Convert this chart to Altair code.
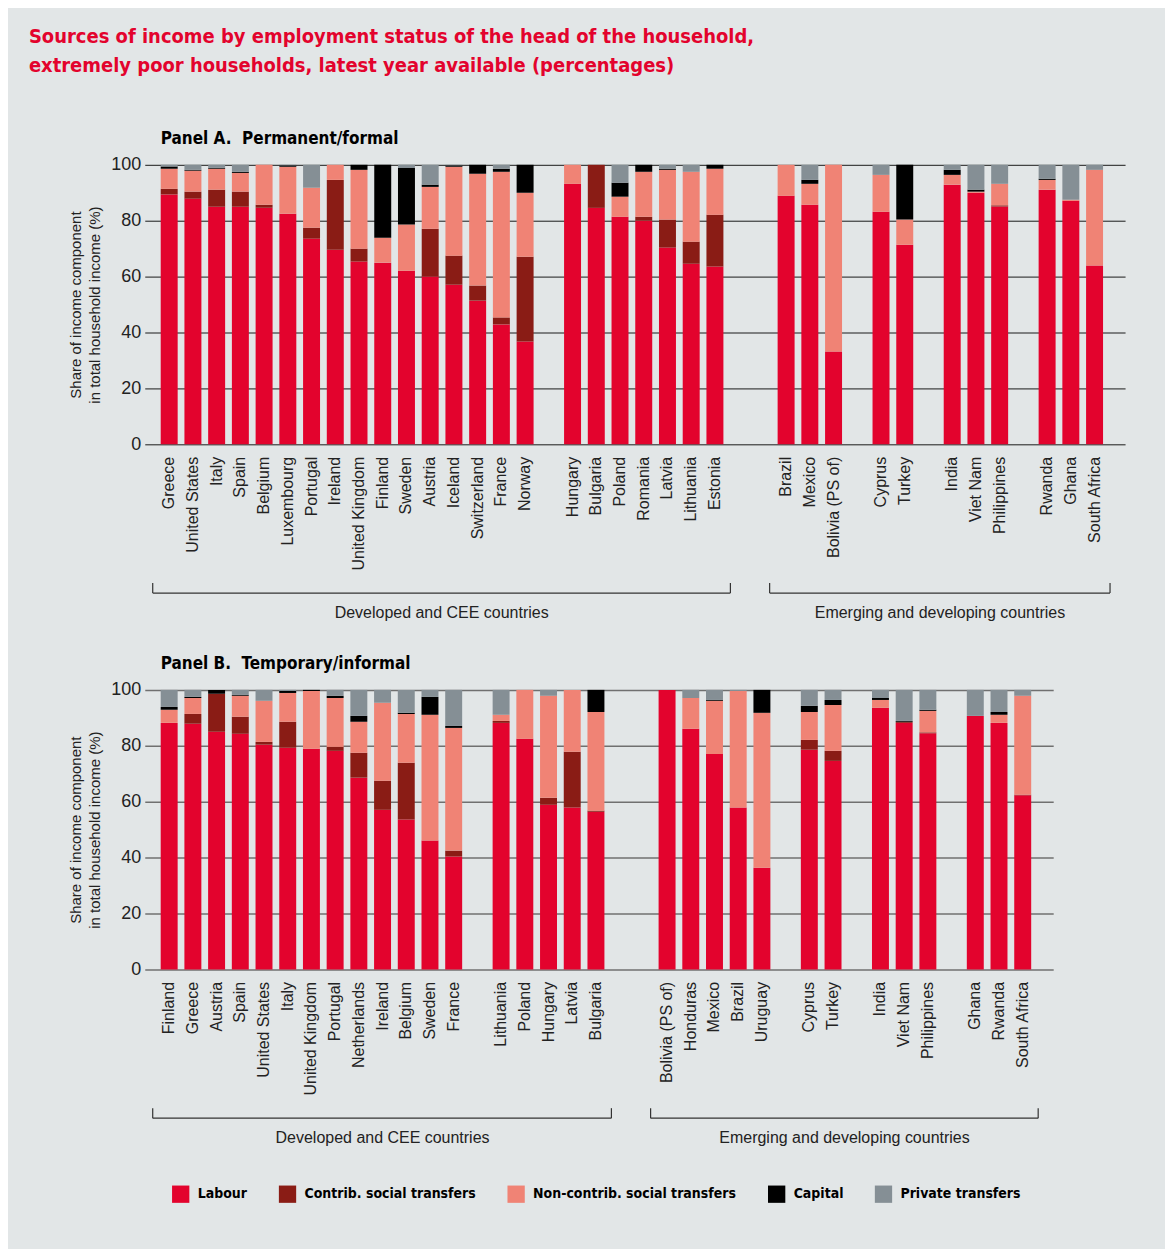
import altair as alt
import pandas as pd

SOURCES = ["Labour", "Contrib. social transfers", "Non-contrib. social transfers", "Capital", "Private transfers"]
COLORS = ["#E3032D", "#8A1C15", "#F08375", "#000000", "#858F95"]

# ---------------- Panel A: Permanent/formal ----------------
A_dev = ["Greece", "United States", "Italy", "Spain", "Belgium", "Luxembourg", "Portugal", "Ireland",
         "United Kingdom", "Finland", "Sweden", "Austria", "Iceland", "Switzerland", "France", "Norway"]
A_cee = ["Hungary", "Bulgaria", "Poland", "Romania", "Latvia", "Lithuania", "Estonia"]
A_em1 = ["Brazil", "Mexico", "Bolivia (PS of)"]
A_em2 = ["Cyprus", "Turkey"]
A_em3 = ["India", "Viet Nam", "Philippines"]
A_em4 = ["Rwanda", "Ghana", "South Africa"]
A_countries = A_dev + A_cee + A_em1 + A_em2 + A_em3 + A_em4

A_labour = [89.4, 87.9, 85.0, 85.0, 84.6, 82.5, 73.6, 69.6, 65.4, 65.0, 62.1, 60.0, 57.1, 51.4, 42.9, 36.8,
            93.2, 84.6, 81.4, 80.0, 70.4, 64.6, 63.6,
            88.9, 85.7, 33.2, 83.2, 71.4, 92.9, 90.0, 85.1, 91.1, 87.1, 64.0]
A_contrib = [2.0, 2.5, 6.1, 5.4, 1.1, 0.0, 3.9, 25.0, 4.6, 0.0, 0.0, 17.1, 10.4, 5.4, 2.5, 30.3,
             0.0, 15.4, 0.0, 1.4, 10.0, 7.9, 18.5,
             0.0, 0.0, 0.0, 0.0, 0.0, 0.0, 0.0, 0.4, 0.0, 0.0, 0.0]
A_noncontrib = [7.2, 7.5, 7.5, 6.7, 14.3, 16.8, 14.3, 5.4, 28.2, 8.9, 16.5, 15.0, 31.8, 40.0, 52.1, 22.9,
                6.8, 0.0, 7.2, 16.1, 17.8, 25.0, 16.5,
                11.1, 7.5, 66.8, 13.2, 9.0, 3.5, 0.4, 7.7, 3.5, 0.4, 34.2]
A_capital = [0.8, 0.3, 0.3, 0.4, 0.0, 0.5, 0.0, 0.0, 1.8, 26.1, 20.3, 0.8, 0.5, 3.2, 1.1, 10.0,
             0.0, 0.0, 5.0, 2.5, 0.4, 0.0, 1.4,
             0.0, 1.4, 0.0, 0.0, 19.6, 1.8, 0.7, 0.0, 0.4, 0.0, 0.0]
A_private = [0.6, 1.8, 1.1, 2.5, 0.0, 0.2, 8.2, 0.0, 0.0, 0.0, 1.1, 7.1, 0.2, 0.0, 1.4, 0.0,
             0.0, 0.0, 6.4, 0.0, 1.4, 2.5, 0.0,
             0.0, 5.4, 0.0, 3.6, 0.0, 1.8, 8.9, 6.8, 5.0, 12.5, 1.8]

# ---------------- Panel B: Temporary/informal ----------------
B_dev = ["Finland", "Greece", "Austria", "Spain", "United States", "Italy", "United Kingdom", "Portugal",
         "Netherlands", "Ireland", "Belgium", "Sweden", "France"]
B_cee = ["Lithuania", "Poland", "Hungary", "Latvia", "Bulgaria"]
B_em1 = ["Bolivia (PS of)", "Honduras", "Mexico", "Brazil", "Uruguay"]
B_em2 = ["Cyprus", "Turkey"]
B_em3 = ["India", "Viet Nam", "Philippines"]
B_em4 = ["Ghana", "Rwanda", "South Africa"]
B_countries = B_dev + B_cee + B_em1 + B_em2 + B_em3 + B_em4

B_labour = [88.2, 87.9, 85.0, 84.3, 80.4, 79.3, 78.9, 78.2, 68.6, 57.1, 53.6, 46.1, 40.4,
            88.2, 82.5, 58.9, 57.9, 56.4,
            100.0, 86.1, 77.1, 57.9, 36.4, 78.6, 74.6, 93.6, 88.2, 84.5, 90.7, 88.2, 62.3]
B_contrib = [0.0, 3.5, 13.6, 6.1, 1.0, 9.3, 0.0, 1.4, 8.9, 10.4, 20.3, 0.0, 2.1,
             0.7, 0.0, 2.5, 20.0, 0.4,
             0.0, 0.0, 0.0, 0.0, 0.0, 3.5, 3.6, 0.0, 0.4, 0.3, 0.0, 0.0, 0.2]
B_noncontrib = [4.7, 5.7, 0.0, 7.5, 14.7, 10.3, 20.7, 17.5, 11.1, 27.9, 17.5, 45.0, 43.9,
                2.2, 17.5, 36.5, 22.1, 35.3,
                0.0, 11.0, 19.0, 41.7, 55.4, 10.0, 16.4, 2.8, 0.0, 7.7, 0.0, 2.9, 35.4]
B_capital = [1.0, 0.4, 1.4, 0.3, 0.0, 0.7, 0.4, 0.8, 2.1, 0.0, 0.4, 6.4, 0.7,
             0.0, 0.0, 0.0, 0.0, 7.9,
             0.0, 0.0, 0.3, 0.0, 8.2, 2.2, 1.8, 0.7, 0.3, 0.4, 0.0, 1.0, 0.0]
B_private = [6.1, 2.5, 0.0, 1.8, 3.9, 0.4, 0.0, 2.1, 9.3, 4.6, 8.2, 2.5, 12.9,
             8.9, 0.0, 2.1, 0.0, 0.0,
             0.0, 2.9, 3.6, 0.4, 0.0, 5.7, 3.6, 2.9, 11.1, 7.1, 9.3, 7.9, 2.1]

GROUP_LABELS = ["Developed and CEE countries", "Emerging and developing countries"]

TITLE_LINES = ["Sources of income by employment status of the head of the household,",
               "extremely poor households, latest year available (percentages)"]
Y_TITLE = ["Share of income component", "in total household income (%)"]

NARROW = "Liberation Sans Narrow, DejaVu Sans Condensed, Arial Narrow, sans-serif"
SANS = "Liberation Sans, Arial, sans-serif"
BG = "#E2E6E7"
H = 280


def long_df(countries, series):
    rows = []
    for i, c in enumerate(countries):
        for k, s in enumerate(SOURCES):
            rows.append({"country": c, "source": s, "order": k, "value": series[k][i]})
    return pd.DataFrame(rows)


X_AXIS = alt.Axis(title=None, labelAngle=270, labelFont=SANS, labelFontSize=16, labelColor="#222",
                  labelPadding=12, ticks=False, domain=False, grid=False, labelOverlap=False,
                  labelExpr="indexof(datum.label, '_') == 0 ? '' : datum.label")


def panel(df, domain, groups, title, width, grid_color, grid_width):
    xscale = alt.Scale(domain=domain, paddingInner=0.285, paddingOuter=0.8, align=0.42)
    legend = alt.Legend(title=None, orient="none", legendX=27, legendY=1022, direction="horizontal",
                        columns=5, symbolType="square", symbolSize=300, symbolStrokeWidth=0,
                        symbolOpacity=1, labelFont=NARROW, labelFontSize=14, labelFontWeight="bold",
                        labelColor="#000", columnPadding=31, labelOffset=8, labelLimit=300)
    bars = alt.Chart(df).mark_bar().encode(
        x=alt.X("country:N", scale=xscale, title=None, axis=X_AXIS),
        y=alt.Y("value:Q", stack="zero", scale=alt.Scale(domain=[0, 100], nice=False),
                axis=alt.Axis(values=[0, 20, 40, 60, 80, 100], title=Y_TITLE, titleFont=SANS,
                              titleFontSize=15, titleFontWeight="normal", titleColor="#222",
                              titlePadding=8, titleLineHeight=19,
                              labelFont=SANS, labelFontSize=18, labelColor="#222", labelPadding=4,
                              ticks=False, domain=False, gridColor=grid_color, gridWidth=grid_width,
                              gridOpacity=1)),
        color=alt.Color("source:N", scale=alt.Scale(domain=SOURCES, range=COLORS), legend=legend),
        order=alt.Order("order:Q", sort="ascending"),
    )
    gdf = pd.DataFrame(groups)
    hline = alt.Chart(gdf).mark_rule(color="#333", strokeWidth=1.2, xOffset=-8, x2Offset=7).encode(
        x=alt.X("start:N", scale=xscale, title=None, axis=X_AXIS, bandPosition=0),
        x2=alt.X2("end:N", bandPosition=1),
        y=alt.value(H + 149),
    )
    ltick = alt.Chart(gdf).mark_rule(color="#333", strokeWidth=1.2, xOffset=-8).encode(
        x=alt.X("start:N", scale=xscale, title=None, axis=X_AXIS, bandPosition=0),
        y=alt.value(H + 139), y2=alt.value(H + 149),
    )
    rtick = alt.Chart(gdf).mark_rule(color="#333", strokeWidth=1.2, xOffset=7).encode(
        x=alt.X("end:N", scale=xscale, title=None, axis=X_AXIS, bandPosition=1),
        y=alt.value(H + 139), y2=alt.value(H + 149),
    )
    layers = [bars, hline, ltick, rtick]
    for g in groups:
        t = alt.Chart(pd.DataFrame([g])).mark_text(font=SANS, fontSize=16, color="#222",
                                                   baseline="middle", align="center",
                                                   dx=g["dx"]).encode(
            x=alt.X("mid:N", scale=xscale, title=None, axis=X_AXIS, bandPosition=g["bp"]),
            y=alt.value(H + 169),
            text="label:N",
        )
        layers.append(t)
    return alt.layer(*layers).properties(
        width=width, height=H,
        title=alt.TitleParams(title, anchor="start", frame="group", dx=16, font=NARROW, fontSize=17,
                              fontWeight="bold", color="#000", offset=8),
    )


A_domain = A_dev + ["_a1"] + A_cee + ["_a2", "_a3"] + A_em1 + ["_a4"] + A_em2 + ["_a5"] + A_em3 + ["_a6"] + A_em4
B_domain = B_dev + ["_b1"] + B_cee + ["_b2", "_b3"] + B_em1 + ["_b4"] + B_em2 + ["_b5"] + B_em3 + ["_b6"] + B_em4

A_groups = [
    {"start": A_dev[0], "end": A_cee[-1], "mid": "Austria", "bp": 1, "dx": 3, "label": GROUP_LABELS[0]},
    {"start": A_em1[0], "end": A_em4[-1], "mid": "_a5", "bp": 1, "dx": 3, "label": GROUP_LABELS[1]},
]
B_groups = [
    {"start": B_dev[0], "end": B_cee[-1], "mid": "Ireland", "bp": 0.5, "dx": 0, "label": GROUP_LABELS[0]},
    {"start": B_em1[0], "end": B_em4[-1], "mid": "Turkey", "bp": 1, "dx": 3, "label": GROUP_LABELS[1]},
]

dfA = long_df(A_countries, [A_labour, A_contrib, A_noncontrib, A_capital, A_private])
dfB = long_df(B_countries, [B_labour, B_contrib, B_noncontrib, B_capital, B_private])

pA = panel(dfA, A_domain, A_groups, "Panel A.\u00a0 Permanent/formal", 982, "#1a1a1a", 1)
pB = panel(dfB, B_domain, B_groups, "Panel B.\u00a0 Temporary/informal", 910, "#707070", 1.5)

chart = alt.vconcat(pA, pB, spacing=34).properties(
    title=alt.TitleParams(TITLE_LINES, anchor="start", frame="bounds", dx=-40, font=NARROW,
                          fontSize=20, fontWeight="bold", color="#E3032D", lineHeight=29, offset=54),
    padding={"left": 20, "top": 18, "right": 40, "bottom": 45},
    background=BG,
).configure_view(stroke=None)

chart.save("out.html", embed_options={"renderer": "svg", "actions": False})
